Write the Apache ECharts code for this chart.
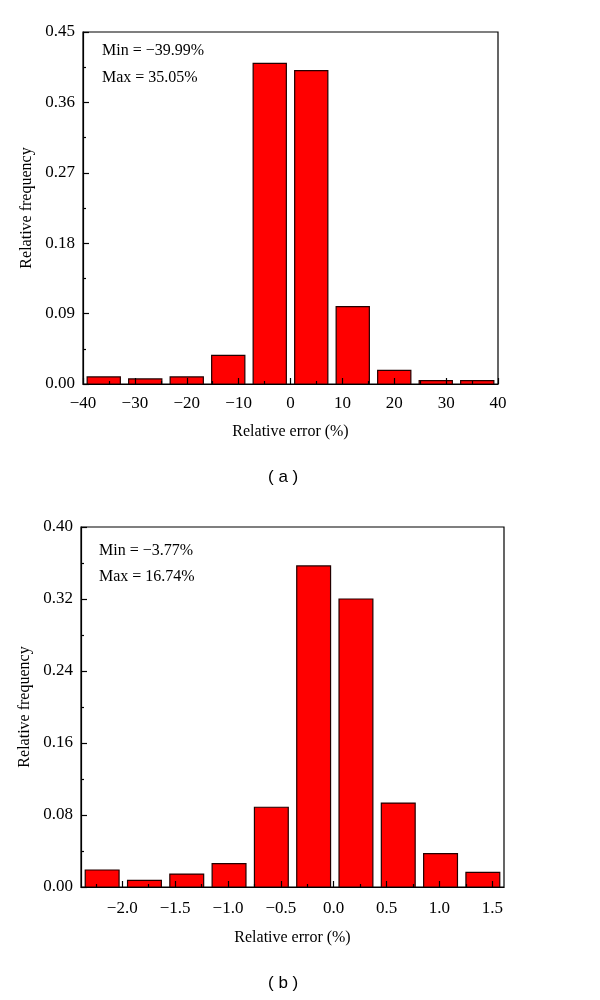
<!DOCTYPE html>
<html>
<head>
<meta charset="utf-8">
<script src="https://cdn.jsdelivr.net/npm/echarts@6/dist/echarts.min.js"></script>
<style>html,body{margin:0;padding:0;background:#fff;}#c{width:600px;height:1000px;}</style>
</head>
<body>
<div id="c"></div>
<script>
// ---- Data (a) ----
const binCentersA = [-36, -28, -20, -12, -4, 4, 12, 20, 28, 36];
const freqA = [0.009, 0.0065, 0.009, 0.0367, 0.410, 0.4005, 0.099, 0.0175, 0.0043, 0.0043];
const binWidthA = 8;
const annotA = ['Min = \u221239.99%', 'Max = 35.05%'];
// ---- Data (b) ----
const binCentersB = [-2.19, -1.79, -1.39, -0.99, -0.59, -0.19, 0.21, 0.61, 1.01, 1.41];
const freqB = [0.0189, 0.0074, 0.0144, 0.026, 0.0886, 0.3567, 0.320, 0.0933, 0.0371, 0.0163];
const binWidthB = 0.4;
const annotB = ['Min = \u22123.77%', 'Max = 16.74%'];
const xTicksB = [-2.0, -1.5, -1.0, -0.5, 0.0, 0.5, 1.0, 1.5];
const xMinorTicksB = [-2.25, -1.75, -1.25, -0.75, -0.25, 0.25, 0.75, 1.25];

const SERIF = '"Liberation Serif", "DejaVu Serif", serif';
const SANS = '"Liberation Sans", Arial, sans-serif';
const fmtMinus = s => String(s).replace('-', '\u2212');

function renderBin(binWidth) {
  return function (params, api) {
    const x = api.value(0), y = api.value(1);
    const half = binWidth * 0.4;
    const p0 = api.coord([x - half, y]);
    const p1 = api.coord([x + half, 0]);
    return {
      type: 'rect',
      shape: { x: p0[0], y: p0[1], width: p1[0] - p0[0], height: p1[1] - p0[1] },
      style: { fill: '#ff0000', stroke: '#220000', lineWidth: 1.2 }
    };
  };
}

const axisLineStyle = { show: true, onZero: false, lineStyle: { color: '#000', width: 1.2 } };
const tickLine = { color: '#000', width: 1.2 };
const labelStyle = { color: '#000', fontFamily: SERIF, fontSize: 17 };
const nameStyle = { color: '#000', fontFamily: SERIF, fontSize: 16 };

const chart = echarts.init(document.getElementById('c'), null, { renderer: 'canvas' });
chart.setOption({
  backgroundColor: '#fff',
  animation: false,
  grid: [
    { left: 83, top: 32, width: 415, height: 352, show: true, borderColor: '#000', borderWidth: 1.2, backgroundColor: 'transparent' },
    { left: 81, top: 527, width: 423, height: 360, show: true, borderColor: '#000', borderWidth: 1.2, backgroundColor: 'transparent' }
  ],
  xAxis: [
    {
      type: 'value', gridIndex: 0, min: -40, max: 40, interval: 10, z: 5,
      axisLine: axisLineStyle,
      axisTick: { show: true, inside: true, length: 6, lineStyle: tickLine },
      minorTick: { show: true, splitNumber: 2, length: 3, lineStyle: tickLine },
      splitLine: { show: false },
      axisLabel: Object.assign({ margin: 11, formatter: v => fmtMinus(v) }, labelStyle),
      name: 'Relative error (%)', nameLocation: 'middle', nameGap: 40, nameTextStyle: nameStyle
    },
    {
      type: 'value', gridIndex: 1, min: -2.39, max: 1.61, z: 5,
      axisLine: axisLineStyle,
      axisTick: { show: true, inside: true, length: 6, customValues: xTicksB, lineStyle: tickLine },
      splitLine: { show: false },
      axisLabel: Object.assign({ margin: 13, customValues: xTicksB, formatter: v => fmtMinus(v.toFixed(1)) }, labelStyle),
      name: 'Relative error (%)', nameLocation: 'middle', nameGap: 43, nameTextStyle: nameStyle
    },
    {
      type: 'value', gridIndex: 1, min: -2.39, max: 1.61, position: 'bottom', z: 5,
      axisLine: { show: false, onZero: false },
      axisTick: { show: true, inside: true, length: 3, customValues: xMinorTicksB, lineStyle: tickLine },
      splitLine: { show: false },
      axisLabel: { show: false }
    }
  ],
  yAxis: [
    {
      type: 'value', gridIndex: 0, min: 0, max: 0.45, interval: 0.09, z: 5,
      axisLine: axisLineStyle,
      axisTick: { show: true, inside: true, length: 6, lineStyle: tickLine },
      minorTick: { show: true, splitNumber: 2, length: 3, lineStyle: tickLine },
      splitLine: { show: false },
      axisLabel: Object.assign({ margin: 8, formatter: v => v.toFixed(2) }, labelStyle),
      name: 'Relative frequency', nameLocation: 'middle', nameGap: 48, nameRotate: 90, nameTextStyle: nameStyle
    },
    {
      type: 'value', gridIndex: 1, min: 0, max: 0.40, interval: 0.08, z: 5,
      axisLine: axisLineStyle,
      axisTick: { show: true, inside: true, length: 6, lineStyle: tickLine },
      minorTick: { show: true, splitNumber: 2, length: 3, lineStyle: tickLine },
      splitLine: { show: false },
      axisLabel: Object.assign({ margin: 8, formatter: v => v.toFixed(2) }, labelStyle),
      name: 'Relative frequency', nameLocation: 'middle', nameGap: 46, nameRotate: 90, nameTextStyle: nameStyle
    }
  ],
  series: [
    {
      type: 'custom', xAxisIndex: 0, yAxisIndex: 0, z: 2,
      renderItem: renderBin(binWidthA),
      data: binCentersA.map((c, i) => [c, freqA[i]])
    },
    {
      type: 'custom', xAxisIndex: 1, yAxisIndex: 1, z: 2,
      renderItem: renderBin(binWidthB),
      data: binCentersB.map((c, i) => [c, freqB[i]])
    }
  ],
  graphic: [
    { type: 'text', left: 102, top: 43, style: { text: annotA[0], fill: '#000', font: '16px ' + SERIF } },
    { type: 'text', left: 102, top: 70, style: { text: annotA[1], fill: '#000', font: '16px ' + SERIF } },
    { type: 'text', left: 99, top: 543, style: { text: annotB[0], fill: '#000', font: '16px ' + SERIF } },
    { type: 'text', left: 99, top: 569, style: { text: annotB[1], fill: '#000', font: '16px ' + SERIF } },
    { type: 'text', left: 268, top: 469, style: { text: '( a )', fill: '#000', font: '17px ' + SANS } },
    { type: 'text', left: 268, top: 975, style: { text: '( b )', fill: '#000', font: '17px ' + SANS } }
  ]
});
</script>
</body>
</html>
